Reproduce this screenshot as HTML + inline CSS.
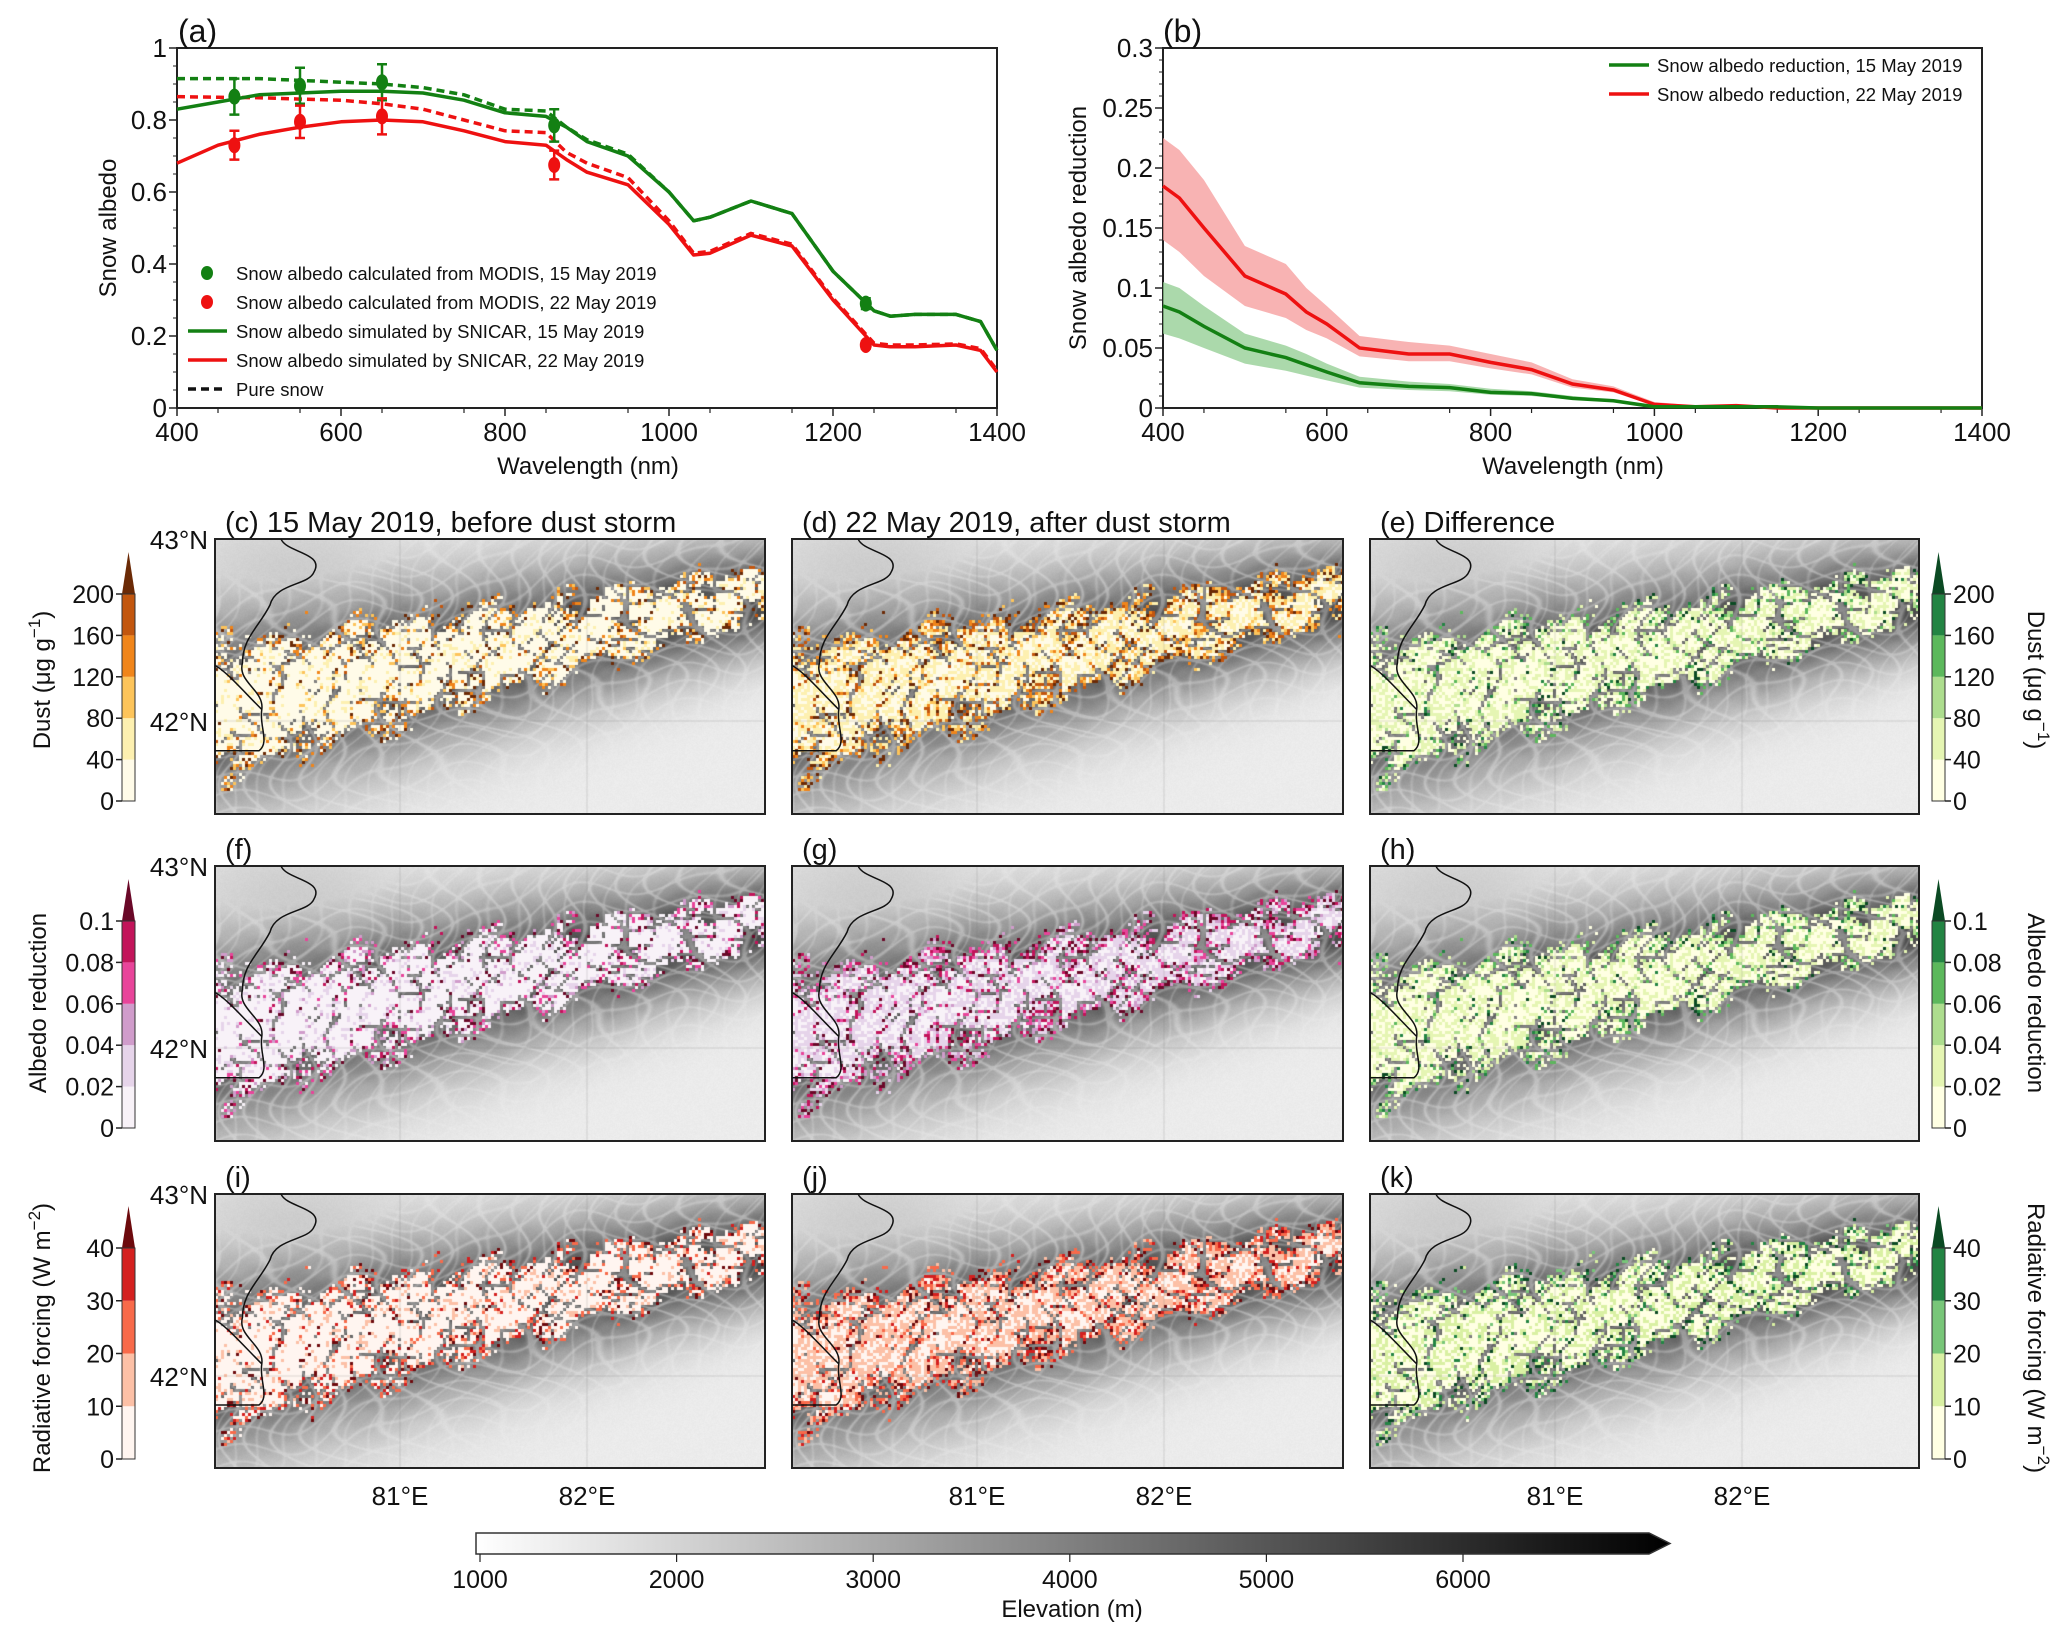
<!DOCTYPE html>
<html><head><meta charset="utf-8">
<style>
html,body{margin:0;padding:0;background:#fff;}
#root{position:relative;width:2067px;height:1635px;overflow:hidden;background:#fff;}
canvas{position:absolute;}
svg{position:absolute;left:0;top:0;}
text{font-family:"Liberation Sans Narrow","Liberation Sans",sans-serif;fill:#111;}
.t{font-family:"Liberation Sans",sans-serif;}
</style></head>
<body>
<div id="root">
<canvas id="m0" width="550" height="275" style="left:215px;top:539px"></canvas>
<canvas id="m1" width="551" height="275" style="left:792px;top:539px"></canvas>
<canvas id="m2" width="549" height="275" style="left:1370px;top:539px"></canvas>
<canvas id="m3" width="550" height="275" style="left:215px;top:866px"></canvas>
<canvas id="m4" width="551" height="275" style="left:792px;top:866px"></canvas>
<canvas id="m5" width="549" height="275" style="left:1370px;top:866px"></canvas>
<canvas id="m6" width="550" height="274" style="left:215px;top:1194px"></canvas>
<canvas id="m7" width="551" height="274" style="left:792px;top:1194px"></canvas>
<canvas id="m8" width="549" height="274" style="left:1370px;top:1194px"></canvas>
<svg id="svg" width="2067" height="1635" xmlns="http://www.w3.org/2000/svg"></svg>
</div>
<script>
// ---------- Panel (a) data ----------
const wlA = [400,450,500,550,600,650,700,750,800,850,875,900,950,1000,1030,1050,1100,1150,1200,1250,1270,1300,1350,1380,1400];
const snicar15 = [0.83,0.85,0.87,0.875,0.88,0.88,0.875,0.855,0.82,0.81,0.78,0.74,0.70,0.60,0.52,0.53,0.575,0.54,0.38,0.27,0.255,0.26,0.26,0.24,0.16];
const pure15   = [0.915,0.915,0.915,0.91,0.905,0.9,0.89,0.87,0.83,0.825,0.78,0.745,0.705,0.60,0.52,0.53,0.575,0.54,0.38,0.27,0.255,0.26,0.26,0.24,0.16];
const snicar22 = [0.68,0.73,0.76,0.78,0.795,0.80,0.795,0.77,0.74,0.73,0.69,0.655,0.62,0.51,0.425,0.43,0.48,0.45,0.30,0.175,0.17,0.17,0.175,0.16,0.10];
const pure22   = [0.865,0.863,0.862,0.858,0.855,0.845,0.83,0.80,0.77,0.765,0.71,0.68,0.64,0.52,0.43,0.435,0.485,0.455,0.305,0.18,0.175,0.175,0.178,0.165,0.105];
const modisWl  = [470,550,650,860,1240];
const modis15  = [0.865,0.895,0.905,0.785,0.29];
const modis15Err = [0.05,0.05,0.05,0.045,0.015];
const modis22  = [0.73,0.795,0.81,0.675,0.175];
const modis22Err = [0.04,0.045,0.05,0.04,0.01];
const ticksA_y = [0,0.2,0.4,0.6,0.8,1];
const ticksA_yLabels = ["0","0.2","0.4","0.6","0.8","1"];
const ticksX = [400,600,800,1000,1200,1400];
// ---------- Panel (b) data ----------
const wlB = [400,420,450,500,550,575,600,640,700,750,800,850,900,950,1000,1050,1100,1150,1200,1400];
const red22 = [0.185,0.175,0.15,0.11,0.095,0.08,0.07,0.05,0.045,0.045,0.038,0.032,0.02,0.015,0.003,0.001,0.002,0.0,0.0,0.0];
const red22Lo = [0.14,0.13,0.11,0.085,0.075,0.065,0.058,0.043,0.039,0.039,0.033,0.028,0.017,0.013,0.002,0.0,0.001,0.0,0.0,0.0];
const red22Hi = [0.225,0.215,0.19,0.135,0.12,0.1,0.085,0.06,0.055,0.052,0.045,0.038,0.024,0.018,0.005,0.002,0.003,0.001,0.0,0.0];
const green15 = [0.085,0.08,0.068,0.05,0.042,0.036,0.03,0.021,0.018,0.017,0.013,0.012,0.008,0.006,0.001,0.001,0.001,0.001,0.0,0.0];
const green15Lo = [0.062,0.058,0.05,0.037,0.031,0.027,0.023,0.017,0.015,0.014,0.011,0.01,0.007,0.005,0.0,0.0,0.0,0.0,0.0,0.0];
const green15Hi = [0.105,0.1,0.085,0.062,0.052,0.045,0.037,0.026,0.022,0.02,0.016,0.014,0.01,0.007,0.002,0.002,0.002,0.001,0.0,0.0];
const ticksB_y = [0,0.05,0.1,0.15,0.2,0.25,0.3];
const ticksB_yLabels = ["0","0.05","0.1","0.15","0.2","0.25","0.3"];
// ---------- colorbars ----------
const dustTicks = ["0","40","80","120","160","200"];
const albTicks = ["0","0.02","0.04","0.06","0.08","0.1"];
const rfTicks = ["0","10","20","30","40"];
const elevTicks = [1000,2000,3000,4000,5000,6000];

const NS="http://www.w3.org/2000/svg";
const svg=document.getElementById('svg');
function el(tag,attrs,parent,txt){const e=document.createElementNS(NS,tag);for(const k in attrs)e.setAttribute(k,attrs[k]);if(txt!==undefined)e.textContent=txt;(parent||svg).appendChild(e);return e;}

function makeAxes(x0,x1,y0,y1,ymax){
  return {sx:w=>x0+(w-400)/1000*(x1-x0), sy:v=>y1-(v/ymax)*(y1-y0)};
}
function linePath(ax,xs,ys){return xs.map((x,i)=>(i?'L':'M')+ax.sx(x).toFixed(1)+','+ax.sy(ys[i]).toFixed(1)).join(' ');}

function drawFrame(g,x0,x1,y0,y1,ymax,ticksY,labY,minorY){
  const ax=makeAxes(x0,x1,y0,y1,ymax);
  el('rect',{x:x0,y:y0,width:x1-x0,height:y1-y0,fill:'none',stroke:'#222','stroke-width':2},g);
  ticksX.forEach(t=>{const x=ax.sx(t);
    const tk=el('line',{x1:x,x2:x,y1:y1,y2:y1+8,stroke:'#222','stroke-width':1.5},g);
    
    const tl=el('text',{x:x,y:y1+33,'text-anchor':'middle','font-size':26},g,String(t));
    });
  for(let w=450;w<1400;w+=100){const x=ax.sx(w);el('line',{x1:x,x2:x,y1:y1,y2:y1+5,stroke:'#222','stroke-width':1.2},g);}
  ticksY.forEach((t,i)=>{const y=ax.sy(t);
    el('line',{x1:x0-8,x2:x0,y1:y,y2:y,stroke:'#222','stroke-width':1.5},g);
    const tl=el('text',{x:x0-10,y:y+9,'text-anchor':'end','font-size':26},g,labY[i]);
    });
  for(let v=0;v<=ymax+1e-9;v+=minorY){const y=ax.sy(v);el('line',{x1:x0-4,x2:x0,y1:y,y2:y,stroke:'#222','stroke-width':1},g);}
  return ax;
}

// ===== Panel (a) =====
{
const g=el('g',{});
const ax=drawFrame(g,177,997,48,408,1,ticksA_y,ticksA_yLabels,0.05);
const pl=el('text',{x:178,y:42,'font-size':32},g,'(a)');
const yt=el('text',{class:'t',x:0,y:0,'font-size':24,'text-anchor':'middle',transform:'translate(116,228) rotate(-90)'},g,'Snow albedo');

const xt=el('text',{class:'t',x:588,y:474,'font-size':24,'text-anchor':'middle'},g,'Wavelength (nm)');

const series=[[pure15,'#138013','8,5','pure-snow-15-may'],[pure22,'#ee1111','8,5','pure-snow-22-may'],[snicar15,'#138013','','snicar-15-may'],[snicar22,'#ee1111','','snicar-22-may']];
series.forEach(s=>{const p=el('path',{d:linePath(ax,wlA,s[0]),fill:'none',stroke:s[1],'stroke-width':3.5,'stroke-dasharray':s[2],'stroke-linejoin':'round'},g);
  });
[[modis15,modis15Err,'#138013','modis-15-may'],[modis22,modis22Err,'#ee1111','modis-22-may']].forEach(s=>{
  modisWl.forEach((w,i)=>{const x=ax.sx(w),y=ax.sy(s[0][i]),yl=ax.sy(s[0][i]-s[1][i]),yh=ax.sy(s[0][i]+s[1][i]);
    el('path',{d:`M${x},${yl}V${yh}M${x-5},${yl}H${x+5}M${x-5},${yh}H${x+5}`,stroke:s[2],'stroke-width':2.5,fill:'none'},g);
    const c=el('ellipse',{cx:x,cy:y,rx:6,ry:8,fill:s[2]},g);
    });});
const leg=el('g',{},g);
const items=[['dot','#138013','Snow albedo calculated from MODIS, 15 May 2019'],['dot','#ee1111','Snow albedo calculated from MODIS, 22 May 2019'],['line','#138013','Snow albedo simulated by SNICAR, 15 May 2019'],['line','#ee1111','Snow albedo simulated by SNICAR, 22 May 2019'],['dash','#111','Pure snow']];
items.forEach((it,i)=>{const y=273+i*29;
  const ge=el('g',{},leg);
  if(it[0]==='dot')el('ellipse',{cx:207,cy:y,rx:6,ry:7,fill:it[1]},ge);
  else el('line',{x1:188,x2:227,y1:y,y2:y,stroke:it[1],'stroke-width':3.5,'stroke-dasharray':it[0]==='dash'?'8,5':''},ge);
  el('text',{x:236,y:y+7,'font-size':18.5},ge,it[2]);});
}
// ===== Panel (b) =====
{
const g=el('g',{});
const ax=drawFrame(g,1163,1982,48,408,0.3,ticksB_y,ticksB_yLabels,0.01);
const pl=el('text',{x:1163,y:42,'font-size':32},g,'(b)');
const yt=el('text',{class:'t',x:0,y:0,'font-size':24,'text-anchor':'middle',transform:'translate(1086,228) rotate(-90)'},g,'Snow albedo reduction');

const xt=el('text',{class:'t',x:1573,y:474,'font-size':24,'text-anchor':'middle'},g,'Wavelength (nm)');

function band(lo,hi){let d=wlB.map((w,i)=>(i?'L':'M')+ax.sx(w)+','+ax.sy(hi[i])).join(' ');
  for(let i=wlB.length-1;i>=0;i--)d+=' L'+ax.sx(wlB[i])+','+ax.sy(lo[i]);return d+'Z';}
const b1=el('path',{d:band(red22Lo,red22Hi),fill:'#f59a9a','fill-opacity':0.75},g);
const b2=el('path',{d:band(green15Lo,green15Hi),fill:'#8fcc8f','fill-opacity':0.75},g);
const l1=el('path',{d:linePath(ax,wlB,red22),fill:'none',stroke:'#ee1111','stroke-width':3.5},g);
const l2=el('path',{d:linePath(ax,wlB,green15),fill:'none',stroke:'#138013','stroke-width':3.5},g);
[['#138013','Snow albedo reduction, 15 May 2019',65],['#ee1111','Snow albedo reduction, 22 May 2019',94]].forEach(it=>{
  const ge=el('g',{},g);
  el('line',{x1:1609,x2:1649,y1:it[2],y2:it[2],stroke:it[0],'stroke-width':3.5},ge);
  el('text',{x:1657,y:it[2]+7,'font-size':18.5},ge,it[1]);});
}
// ===== Map panel titles & axes =====
const mapX=[215,792,1370], mapW=[550,551,549], mapY=[539,866,1194], mapH=[275,275,274];
const titles=[['(c) 15 May 2019, before dust storm','(d)  22 May 2019, after dust storm','(e)  Difference'],['(f)','(g)','(h)'],['(i)','(j)','(k)']];
for(let r=0;r<3;r++){for(let c=0;c<3;c++){
  const t=el('text',{x:mapX[c]+10,y:mapY[r]-7,'font-size':29},svg,titles[r][c]);
  
  const f=el('rect',{x:mapX[c],y:mapY[r],width:mapW[c],height:mapH[r],fill:'none',stroke:'#222','stroke-width':2});
  
  const bx=mapX[c],by=mapY[r],W=mapW[c],H=mapH[r];
  const P=(u,v)=>(bx+u*W).toFixed(1)+','+(by+v*H).toFixed(1);
  const bd=el('path',{d:`M${P(0.12,0)} C${P(0.13,0.05)} ${P(0.2,0.05)} ${P(0.18,0.12)} C${P(0.17,0.17)} ${P(0.11,0.16)} ${P(0.1,0.24)} C${P(0.08,0.32)} ${P(0.05,0.36)} ${P(0.05,0.45)} C${P(0.04,0.52)} ${P(0.09,0.55)} ${P(0.085,0.62)} C${P(0.08,0.68)} ${P(0.1,0.74)} ${P(0.08,0.77)} L${P(0,0.77)} M${P(0.085,0.62)} C${P(0.05,0.55)} ${P(0.02,0.48)} ${P(0,0.46)}`,fill:'none',stroke:'#111','stroke-width':1.5});
  
}
  const l43=el('text',{x:208,y:mapY[r]+10,'text-anchor':'end','font-size':26},svg,'43°N');
  const l42=el('text',{x:208,y:mapY[r]+192,'text-anchor':'end','font-size':26},svg,'42°N');
}
for(let c=0;c<3;c++){['81°E','82°E'].forEach((s,i)=>{const t=el('text',{x:mapX[c]+185+i*187,y:1505,'text-anchor':'middle','font-size':26},svg,s);});}

// ===== Colorbars =====
const pal=[
 ['#fffbe8','#fdf0b0','#fdc45a','#f0851a','#c2560e','#6b2a06'],
 ['#f8f2f8','#e6d4ea','#d09ccb','#e8449a','#c2145a','#6a0828'],
 ['#fff5f0','#fcc0a6','#f86a4a','#d4201f','#6d0a0d'],
 ['#ffffe3','#e5f5b3','#addd8e','#5cb85c','#238443','#0b4a23'],
 ['#ffffe3','#d9f0a3','#78c679','#238443','#0b4a23']];
function colorbar(x,yTop,yBot,cols,labels,side,name){
  const g=el('g',{});
  const n=labels.length-1, h=(yBot-yTop)/n, w=13;
  for(let i=0;i<n;i++)el('rect',{x:x,y:yBot-(i+1)*h,width:w,height:h,fill:cols[i]},g);
  el('path',{d:`M${x},${yTop} L${x+w/2},${yTop-42} L${x+w},${yTop}Z`,fill:cols[n]},g);
  el('rect',{x:x,y:yTop,width:w,height:yBot-yTop,fill:'none',stroke:'#333','stroke-width':1},g);
  labels.forEach((lb,i)=>{const y=yBot-i*h;
    if(side==='L'){el('line',{x1:x-6,x2:x,y1:y,y2:y,stroke:'#222','stroke-width':1.5},g);el('text',{x:x-8,y:y+9,'text-anchor':'end','font-size':25},g,lb);}
    else{el('line',{x1:x+w,x2:x+w+6,y1:y,y2:y,stroke:'#222','stroke-width':1.5},g);el('text',{x:x+w+8,y:y+9,'font-size':25},g,lb);}});
}
colorbar(122,594,801,pal[0],dustTicks,'L','dust-colorbar-left');
colorbar(122,921,1128,pal[1],albTicks,'L','albedo-colorbar-left');
colorbar(122,1248,1459,pal[2],rfTicks,'L','forcing-colorbar-left');
colorbar(1932,594,801,pal[3],dustTicks,'R','dust-colorbar-right');
colorbar(1932,921,1128,pal[3],albTicks,'R','albedo-colorbar-right');
colorbar(1932,1248,1459,pal[4],rfTicks,'R','forcing-colorbar-right');
function vtitle(x,y,rot,html,name){const t=el('text',{class:'t',x:0,y:0,'font-size':24,'text-anchor':'middle',transform:`translate(${x},${y}) rotate(${rot})`});t.innerHTML=html;}
vtitle(50,680,-90,'Dust (μg g<tspan dy="-10" font-size="17">−1</tspan><tspan dy="10">)</tspan>','dust-axis-title-left');
vtitle(46,1003,-90,'Albedo reduction','albedo-axis-title-left');
vtitle(50,1338,-90,'Radiative forcing (W m<tspan dy="-10" font-size="17">−2</tspan><tspan dy="10">)</tspan>','forcing-axis-title-left');
vtitle(2028,680,90,'Dust (μg g<tspan dy="-10" font-size="17">−1</tspan><tspan dy="10">)</tspan>','dust-axis-title-right');
vtitle(2028,1003,90,'Albedo reduction','albedo-axis-title-right');
vtitle(2028,1338,90,'Radiative forcing (W m<tspan dy="-10" font-size="17">−2</tspan><tspan dy="10">)</tspan>','forcing-axis-title-right');

// elevation colorbar
{
const g=el('g',{});
const defs=el('defs',{},g);const lg=el('linearGradient',{id:'eg',x1:0,x2:1,y1:0,y2:0},defs);
el('stop',{offset:0,'stop-color':'#ffffff'},lg);el('stop',{offset:1,'stop-color':'#000000'},lg);
el('path',{d:'M476,1533 L1649,1533 L1670,1543.5 L1649,1554 L476,1554Z',fill:'url(#eg)',stroke:'#333','stroke-width':1.5},g);
const ex=v=>480+(v-1000)/1000*196.6;
elevTicks.forEach(v=>{el('line',{x1:ex(v),x2:ex(v),y1:1554,y2:1562,stroke:'#222','stroke-width':1.2},g);
  el('text',{x:ex(v),y:1588,'text-anchor':'middle','font-size':25},g,String(v));});
el('text',{class:'t',x:1072,y:1617,'text-anchor':'middle','font-size':24},g,'Elevation (m)');
}

// ===== Map rendering (terrain texture) =====
function hash(i,j){const s=Math.sin(i*127.1+j*311.7)*43758.5453;return s-Math.floor(s);}
function ridgeBase(u,v){const vc=0.62-0.42*u;const d=v-vc;const sg=0.25-0.11*u;return Math.exp(-(d*d)/(2*sg*sg));}
function valleys(u,v){
  const a=Math.pow(Math.abs(Math.sin(u*47-v*14+2.5*Math.sin(u*9+v*7)+1.2*Math.sin(v*23))),40);
  const b=Math.pow(Math.abs(Math.sin(u*23+v*41+2*Math.sin(u*13-v*4)+1.1*Math.sin(u*31))),40);
  const c=Math.pow(Math.abs(Math.sin(u*71+v*22+1.5*Math.sin(v*17)+Math.sin(u*19))),50);
  return Math.min(1,a+0.8*b+0.6*c);
}
function elev(u,v){
  const b=ridgeBase(u,v);
  const n=0.5*Math.sin(u*37+v*11)+0.3*Math.sin(u*83-v*61)+0.2*Math.sin(u*151+v*127);
  let e=b*(0.9+0.08*n)*(1-0.4*valleys(u,v));
  const tl=0.17*Math.exp(-((u-0.15)*(u-0.15)+(v-0.12)*(v-0.12))/0.06);
  return Math.max(e,tl);
}
function hexToRgb(h){return [parseInt(h.substr(1,2),16),parseInt(h.substr(3,2),16),parseInt(h.substr(5,2),16)];}
const snowPal=[pal[0],pal[0],pal[3],pal[1],pal[1],pal[3],pal[2],pal[2],pal[4]];
const mode=[0,1,2,0,1,2,0,1,2];
for(let k=0;k<9;k++){
  const cv=document.getElementById('m'+k);const ctx=cv.getContext('2d');const W=cv.width,H=cv.height;
  const img=ctx.createImageData(W,H);const d=img.data;
  const cols=snowPal[k].map(hexToRgb);const nc=snowPal[k].length;
  for(let y=0;y<H;y++)for(let x=0;x<W;x++){
    const u=x/W,v=y/H;const e=elev(u,v);
    let g=236-e*185+(hash(x,y)-0.5)*6;
    let r=g,gg=g,bb=g;
    const ci=Math.floor(x/3),cj=Math.floor(y/3);
    const cu=(ci*3+1)/W,cv2=(cj*3+1)/H;
    const bc=ridgeBase(cu,cv2)*(1-0.35*valleys(cu,cv2));
    const hn=(hash(ci,cj)-0.5)*0.2+0.09*Math.sin(ci*0.31+cj*0.23)+0.06*Math.sin(ci*0.11-cj*0.37);
    const thr=0.63+0.15*cu;
    const s=bc+hn-thr;
    if(s>0){
      let cls;const h2=hash(ci*3.1,cj*1.7);
      if(mode[k]===0){cls=s>0.08?(h2<0.15?1:0):(h2<0.3?0:2+Math.floor(h2*10)%(nc-2));}
      else if(mode[k]===1){cls=s>0.12?(h2<0.5?0:1):1+Math.floor(h2*10)%(nc-1);}
      else{cls=s>0.08?(h2<0.6?0:1):Math.floor(h2*10)%(nc);}
      if(cls>=nc)cls=nc-1;
      const c=cols[cls];r=c[0];gg=c[1];bb=c[2];
    }
    const o=(y*W+x)*4;d[o]=r;d[o+1]=gg;d[o+2]=bb;d[o+3]=255;
  }
  ctx.putImageData(img,0,0);
  ctx.strokeStyle='rgba(120,120,120,0.25)';ctx.lineWidth=1;
  ctx.beginPath();ctx.moveTo(185,0);ctx.lineTo(185,H);ctx.moveTo(372,0);ctx.lineTo(372,H);ctx.moveTo(0,182);ctx.lineTo(W,182);ctx.stroke();
}
</script>
</body></html>
